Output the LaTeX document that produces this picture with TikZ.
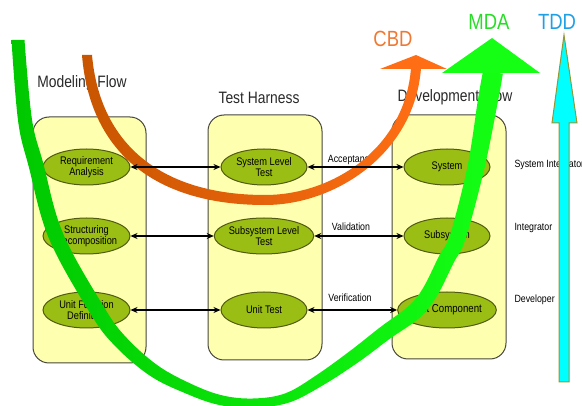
\documentclass[tikz,border=0pt]{standalone}
\usepackage{fontspec}
\setmainfont{Liberation Sans}[FakeStretch=0.84]
\usetikzlibrary{shapes.geometric,arrows.meta}
\definecolor{panelfill}{RGB}{255,255,176}
\definecolor{paneldraw}{RGB}{70,70,60}
\definecolor{stepfill}{RGB}{155,190,20}
\definecolor{stepdraw}{RGB}{80,90,20}
\definecolor{cbdlight}{RGB}{255,110,20}
\definecolor{cbddark}{RGB}{200,85,0}
\definecolor{mdadark}{RGB}{0,200,0}
\definecolor{mdalight}{RGB}{20,255,20}
\definecolor{tddfill}{RGB}{0,255,255}
\definecolor{tdddraw}{RGB}{150,150,50}
\definecolor{cbdtext}{RGB}{240,120,50}
\definecolor{mdatext}{RGB}{40,220,40}
\definecolor{tddtext}{RGB}{30,160,230}
\definecolor{titletext}{RGB}{40,40,40}
\begin{document}
\begin{tikzpicture}[x=1pt,y=-1pt,
  panel/.style={draw=paneldraw, line width=1pt, fill=panelfill, rounded corners=16pt, inner sep=0pt},
  activity/.style={ellipse, draw=stepdraw, line width=1pt, fill=stepfill, minimum width=86pt,
    minimum height=36pt, inner sep=0pt, align=center, font=\fontsize{11}{11.5}\selectfont},
  heading/.style={font=\fontsize{16.5}{18}\selectfont, text=titletext},
  small/.style={font=\fontsize{10.5}{12}\selectfont},
  link/.style={{Stealth[length=7pt,width=6pt]}-{Stealth[length=7pt,width=6pt]}, line width=1.8pt},
  method/.style={font=\fontsize{22}{24}\selectfont}]
\useasboundingbox (0,0) rectangle (582,406);

% three swim-lane panels
\node[panel, minimum width=113pt, minimum height=246pt] (modeling) at (89.5,240) {};
\node[panel, minimum width=114pt, minimum height=245pt] (harness) at (265,237.5) {};
\node[panel, minimum width=114pt, minimum height=244pt] (development) at (449,237) {};

% panel headings
\node[heading] (modelingtitle) at (82,83) {Modeling Flow};
\node[heading] (harnesstitle) at (259,98) {Test Harness};
\node[heading] (developmenttitle) at (455,97) {Development Flow};

% activities
\node[activity, minimum width=87pt] (req) at (86.5,167) {Requirement\\Analysis};
\node[activity, minimum width=87pt] (struct) at (86.5,236) {Structuring\\Decomposition};
\node[activity, minimum width=87pt] (unitfn) at (86.5,310) {Unit Function\\Definition};
\node[activity] (slt) at (264,167) {System Level\\Test};
\node[activity] (sslt) at (264,236) {Subsystem Level\\Test};
\node[activity] (ut) at (264,310) {Unit Test};
\node[activity] (sys) at (447,167) {System};
\node[activity] (subsys) at (447,236) {Subsystem};
\node[activity, font=\fontsize{11.5}{12}\selectfont] (uc) at (447,310) {Unit Component};

% link labels
\node[small] (acc) at (351,160) {Acceptance};
\node[small] (val) at (351,227) {Validation};
\node[small] (ver) at (350,298) {Verification};

% roles
\node[small, anchor=west] (role1) at (511,165) {System Integrator};
\node[small, anchor=west] (role2) at (511,228) {Integrator};
\node[small, anchor=west] (role3) at (511,300) {Developer};

% CBD sweep
\shade[left color=cbddark, right color=cbdlight]
  (82,55) .. controls (90,155) and (158,205) .. (265,205)
  .. controls (337,205) and (415,152) .. (421,68)
  -- (411,68) .. controls (405,148) and (333,195) .. (265,195)
  .. controls (162,195) and (100,145) .. (92,55) -- cycle;
\fill[cbdlight] (380,69) -- (416,55) -- (447,69) -- cycle;

% MDA sweep: outer edge, then inner edge back
\shade[left color=mdadark, right color=mdalight]
  plot[smooth, tension=0.6] coordinates {
    (11.5,40) (18.1,121) (28.8,166.9) (49.1,238.9) (90.6,313.9)
    (114.9,345.8) (149.3,375.3) (184.7,393) (218.9,404.9) (253.1,407.5)
    (288.6,402.7) (323.2,385.1) (359.1,361.7) (389.5,339) (419.4,317.9)
    (436.8,296.2) (453.2,263.6) (465.6,238.5) (484.3,168.8) (497.9,101.5)
    (502.8,73.8)}
  -- plot[smooth, tension=0.6] coordinates {
    (483.2,70.2) (478.1,98.5) (467.7,165.2) (450.4,233.5) (438.8,256.4)
    (423.2,287.8) (408.6,306.1) (380.5,327) (350.9,350.3) (316.8,374.9)
    (285.4,393.3) (252.9,398.5) (221.1,395.1) (189.3,383) (156.7,364.7)
    (125.1,336.2) (103.4,306.1) (62.9,233.1) (43.2,163.1) (31.9,119)
    (24.5,40)}
  -- cycle;
\fill[mdalight] (442,73) -- (492,38) -- (540,73) -- cycle;

% links between the lanes
\draw[link] (req) -- (slt);
\draw[link] (struct) -- (sslt);
\draw[link] (unitfn) -- (ut);
\draw[link] (slt) -- (sys);
\draw[link] (sslt) -- (subsys);
\draw[link] (ut) -- (uc);

% TDD arrow
\draw[fill=tddfill, draw=tdddraw, line width=1pt]
  (559,382) -- (569,382) -- (569,123) -- (577,123) -- (564,35)
  -- (552,123) -- (559,123) -- cycle;

% method names
\node[method, text=cbdtext] (cbd) at (393,39) {CBD};
\node[method, text=mdatext] (mda) at (489,22) {MDA};
\node[method, text=tddtext] (tdd) at (557,22) {TDD};
\end{tikzpicture}
\end{document}
